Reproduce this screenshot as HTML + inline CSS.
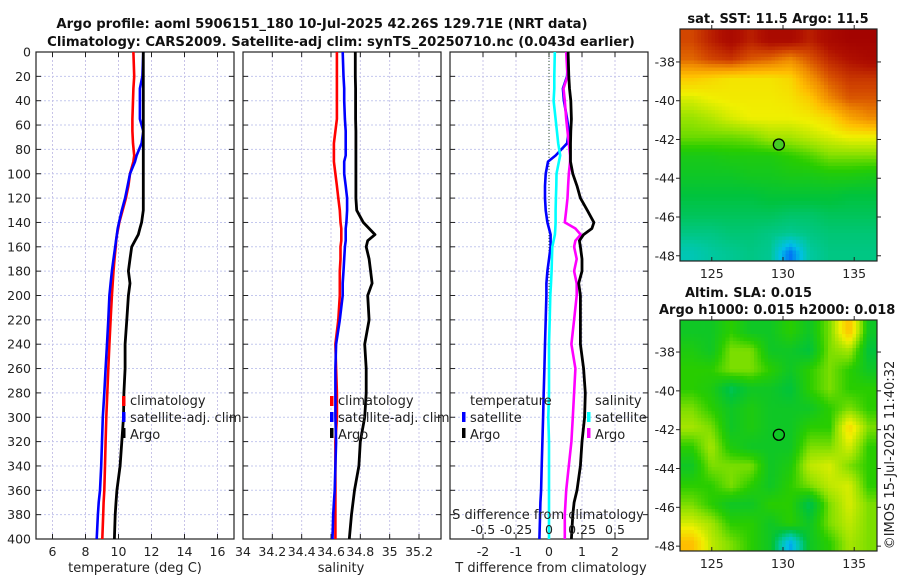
<!DOCTYPE html>
<html><head><meta charset="utf-8">
<style>
html,body{margin:0;padding:0;background:#fff;}
#root{position:relative;width:900px;height:580px;overflow:hidden;font-family:"DejaVu Sans","Liberation Sans",sans-serif;}
svg text{font-family:"DejaVu Sans","Liberation Sans",sans-serif;}
canvas{position:absolute;image-rendering:pixelated;}
</style></head>
<body>
<div id="root">
<canvas id="sstmap" width="56" height="66" style="left:680px;top:29px;width:197px;height:232px;"></canvas>
<canvas id="slamap" width="56" height="66" style="left:680px;top:320px;width:197px;height:231px;"></canvas>
<svg id="chart" width="900" height="580" style="position:absolute;left:0;top:0"></svg>
</div>
<script>
// ---------- data ----------
const depths      = [0,20,30,40,55,65,75,85,90,100,110,120,130,140,145,150,155,160,170,180,190,200,220,240,260,280,300,320,340,360,370,380,400];
const tempArgo    = [11.5,11.5,11.5,11.5,11.5,11.5,11.5,11.5,11.5,11.5,11.5,11.5,11.5,11.4,11.3,11.2,11.0,10.8,10.7,10.6,10.7,10.6,10.5,10.4,10.4,10.33,10.3,10.2,10.1,9.9,9.85,9.8,9.75];
const tempClim    = [10.9,10.95,10.9,10.88,10.84,10.84,10.88,10.95,10.9,10.7,10.6,10.45,10.25,10.05,9.98,9.9,9.86,9.83,9.76,9.7,9.65,9.6,9.52,9.45,9.38,9.32,9.26,9.22,9.18,9.14,9.1,9.07,9.02];
const tempSat     = [11.5,11.45,11.3,11.3,11.3,11.5,11.4,11.1,11.0,10.7,10.55,10.4,10.2,10.03,9.95,9.9,9.85,9.8,9.7,9.6,9.52,9.45,9.38,9.3,9.22,9.14,9.05,9.0,8.95,8.88,8.8,8.75,8.68];
const salArgo     = [34.766,34.766,34.768,34.768,34.768,34.77,34.77,34.77,34.77,34.77,34.77,34.77,34.775,34.82,34.86,34.90,34.85,34.84,34.86,34.87,34.88,34.85,34.86,34.83,34.84,34.84,34.83,34.80,34.79,34.76,34.75,34.74,34.725];
const salClim     = [34.64,34.64,34.64,34.64,34.64,34.63,34.62,34.62,34.62,34.63,34.64,34.65,34.66,34.665,34.67,34.67,34.67,34.665,34.665,34.66,34.66,34.66,34.65,34.63,34.635,34.64,34.64,34.63,34.63,34.63,34.63,34.63,34.63];
const salSat      = [34.68,34.685,34.69,34.69,34.695,34.70,34.70,34.70,34.69,34.69,34.70,34.71,34.71,34.705,34.70,34.70,34.70,34.695,34.69,34.685,34.68,34.68,34.66,34.635,34.63,34.63,34.63,34.635,34.63,34.625,34.62,34.615,34.61];
const dTsat       = [0.58,0.55,0.42,0.45,0.55,0.6,0.55,0.2,-0.03,-0.1,-0.12,-0.12,-0.1,-0.05,0.0,0.05,0.05,0.05,0.0,-0.05,-0.08,-0.08,-0.1,-0.12,-0.14,-0.16,-0.18,-0.2,-0.22,-0.24,-0.26,-0.27,-0.29];
const dTargo      = [0.58,0.6,0.62,0.66,0.68,0.66,0.65,0.65,0.65,0.72,0.85,0.95,1.16,1.36,1.3,1.05,0.92,0.95,1.0,1.0,0.9,0.95,0.95,0.95,1.05,1.1,1.08,1.0,0.95,0.85,0.76,0.72,0.68];
const dSsat       = [0.044,0.04,0.04,0.035,0.05,0.06,0.07,0.085,0.075,0.057,0.055,0.052,0.05,0.05,0.048,0.045,0.035,0.025,0.022,0.02,0.015,0.01,0.005,0.0,0.0,0.0,-0.005,0.0,0.0,0.0,0.0,0.0,0.0];
const dSargo      = [0.13,0.14,0.11,0.12,0.13,0.14,0.15,0.16,0.16,0.15,0.145,0.14,0.13,0.12,0.20,0.24,0.20,0.19,0.21,0.19,0.21,0.21,0.19,0.17,0.20,0.19,0.18,0.17,0.15,0.13,0.125,0.12,0.12];
const depthTicks  = [0,20,40,60,80,100,120,140,160,180,200,220,240,260,280,300,320,340,360,380,400];
const tempTicks   = [6,8,10,12,14,16];
const salTicks    = [34,34.2,34.4,34.6,34.8,35,35.2];
const salTickLbl  = ["34","34.2","34.4","34.6","34.8","35","35.2"];
const dTTicks     = [-2,-1,0,1,2];
const dSTicks     = [-0.5,-0.25,0,0.25,0.5];
const dSTickLbl   = ["-0.5","-0.25","0","0.25","0.5"];
const lonTicks    = [125,130,135];
const latTicks    = [-38,-40,-42,-44,-46,-48];
const argoLon = 129.71, argoLat = -42.26;
const sstGrid = [
 [0.88,0.93,0.97,0.93,0.97,0.97,0.93,0.97,0.99,0.99],
 [0.84,0.88,0.9,0.86,0.84,0.8,0.86,0.92,0.95,0.97],
 [0.7,0.68,0.66,0.66,0.66,0.68,0.78,0.86,0.9,0.9],
 [0.62,0.64,0.65,0.65,0.65,0.66,0.7,0.8,0.86,0.86],
 [0.57,0.59,0.62,0.64,0.64,0.64,0.65,0.68,0.76,0.8],
 [0.54,0.54,0.54,0.55,0.58,0.58,0.6,0.62,0.64,0.64],
 [0.47,0.47,0.48,0.48,0.48,0.5,0.52,0.55,0.55,0.55],
 [0.45,0.45,0.45,0.46,0.46,0.47,0.47,0.48,0.48,0.47],
 [0.42,0.42,0.42,0.42,0.43,0.43,0.43,0.43,0.42,0.42],
 [0.4,0.4,0.4,0.4,0.4,0.39,0.39,0.4,0.4,0.4],
 [0.37,0.37,0.38,0.38,0.37,0.36,0.37,0.38,0.38,0.38],
 [0.33,0.35,0.36,0.37,0.36,0.2,0.35,0.37,0.37,0.37]];
const slaGrid = [
 [0.45,0.45,0.5,0.45,0.45,0.5,0.45,0.55,0.72,0.45],
 [0.48,0.45,0.55,0.55,0.45,0.45,0.42,0.55,0.58,0.42],
 [0.5,0.5,0.55,0.55,0.5,0.45,0.5,0.55,0.5,0.45],
 [0.5,0.48,0.4,0.45,0.45,0.42,0.5,0.55,0.5,0.5],
 [0.55,0.5,0.45,0.48,0.45,0.45,0.45,0.5,0.55,0.5],
 [0.58,0.55,0.45,0.48,0.45,0.45,0.5,0.5,0.68,0.55],
 [0.5,0.58,0.48,0.45,0.45,0.45,0.55,0.55,0.62,0.5],
 [0.45,0.55,0.55,0.55,0.45,0.48,0.6,0.62,0.55,0.5],
 [0.5,0.5,0.55,0.5,0.45,0.5,0.55,0.6,0.62,0.5],
 [0.55,0.5,0.45,0.45,0.5,0.5,0.4,0.55,0.62,0.55],
 [0.62,0.58,0.5,0.5,0.45,0.5,0.45,0.55,0.6,0.55],
 [0.72,0.6,0.55,0.5,0.45,0.25,0.45,0.5,0.58,0.55]];

// ---------- helpers ----------
const NS="http://www.w3.org/2000/svg";
const svg=document.getElementById('chart');
function el(tag,attrs,parent){const e=document.createElementNS(NS,tag);for(const k in attrs)e.setAttribute(k,attrs[k]);(parent||svg).appendChild(e);return e;}
function txt(s,x,y,attrs,parent){const t=el('text',Object.assign({x:x,y:y,'font-size':12,fill:'#222'},attrs||{}),parent);t.textContent=s;return t;}
const Y0=52,Y1=539;
const yD=d=>Y0+(d/400)*(Y1-Y0);
function scale(d0,d1,r0,r1){return v=>r0+(v-d0)/(d1-d0)*(r1-r0);}
const P1={x0:36,x1:234},P2={x0:243,x1:441},P3={x0:450,x1:648};
const xT=scale(5,17,P1.x0,P1.x1);
const xS=scale(34,35.35,P2.x0,P2.x1);
const xDT=scale(-3,3,P3.x0,P3.x1);
const xDS=scale(-0.75,0.75,P3.x0,P3.x1);

function panel(P,name,xs,ticks,lbls){
  const g=el('g',{});
  
  
  depthTicks.forEach(d=>{ if(d>0&&d<400) el('line',{x1:P.x0,x2:P.x1,y1:yD(d),y2:yD(d),stroke:'#c4c8ee','stroke-width':1,'stroke-dasharray':'2,2'},g);});
  ticks.forEach(v=>{ el('line',{x1:xs(v),x2:xs(v),y1:Y0,y2:Y1,stroke:'#c8c4e8','stroke-width':1,'stroke-dasharray':'2,2'},g);});
  depthTicks.forEach(d=>{ el('line',{x1:P.x0,x2:P.x0+5,y1:yD(d),y2:yD(d),stroke:'#222'},g); el('line',{x1:P.x1,x2:P.x1-5,y1:yD(d),y2:yD(d),stroke:'#222'},g);});
  ticks.forEach((v,i)=>{ el('line',{x1:xs(v),x2:xs(v),y1:Y1,y2:Y1-5,stroke:'#222'},g); el('line',{x1:xs(v),x2:xs(v),y1:Y0,y2:Y0+5,stroke:'#222'},g);
    const t=txt(lbls?lbls[i]:String(v),xs(v),556,{'text-anchor':'middle','font-size':12.5},g);
    
    
  });
  el('rect',{x:P.x0,y:Y0,width:P.x1-P.x0,height:Y1-Y0,fill:'none',stroke:'#222','stroke-width':1.2},g);
  return g;
}
function line(xs,vals,color,name,w,g){
  const pts=vals.map((v,i)=>xs(v).toFixed(1)+','+yD(depths[i]).toFixed(1)).join(' ');
  const p=el('polyline',{points:pts,fill:'none',stroke:color,'stroke-width':w||2.6,'stroke-linejoin':'round'},g);
  
  
}
function swatch(x,y,color,g){el('rect',{x:x,y:y-8,width:3.5,height:10,fill:color},g);}

// titles
const t1=txt('Argo profile: aoml 5906151_180 10-Jul-2025 42.26S 129.71E (NRT data)',322,28,{'font-weight':'bold','font-size':13.2,'text-anchor':'middle',fill:'#111'});


const t2=txt('Climatology: CARS2009. Satellite-adj clim: synTS_20250710.nc (0.043d earlier)',341,46,{'font-weight':'bold','font-size':13.2,'text-anchor':'middle',fill:'#111'});



// y tick labels
depthTicks.forEach(d=>{const t=txt(String(d),31,yD(d)+4.5,{'text-anchor':'end','font-size':12.5});
 
 });

// panel 1
const g1=panel(P1,'temperature-panel',xT,tempTicks);
line(xT,tempClim,'#ff0000','temp-climatology-line',2.6,g1);
line(xT,tempSat,'#0000ff','temp-satellite-line',2.6,g1);
line(xT,tempArgo,'#000000','temp-argo-line',2.8,g1);
swatch(122,404,'#ff0000',g1);swatch(122,420,'#0000ff',g1);swatch(122,436,'#000',g1);
txt('climatology',130,405,{'font-size':13},g1);txt('satellite-adj. clim',130,422,{'font-size':13},g1);txt('Argo',130,439,{'font-size':13},g1);
const xl1=txt('temperature (deg C)',135,572,{'text-anchor':'middle','font-size':13});



// panel 2
const g2=panel(P2,'salinity-panel',xS,salTicks,salTickLbl);
line(xS,salClim,'#ff0000','sal-climatology-line',2.6,g2);
line(xS,salSat,'#0000ff','sal-satellite-line',2.6,g2);
line(xS,salArgo,'#000000','sal-argo-line',2.8,g2);
swatch(330,404,'#ff0000',g2);swatch(330,420,'#0000ff',g2);swatch(330,436,'#000',g2);
txt('climatology',338,405,{'font-size':13},g2);txt('satellite-adj. clim',338,422,{'font-size':13},g2);txt('Argo',338,439,{'font-size':13},g2);
const xl2=txt('salinity',341,572,{'text-anchor':'middle','font-size':13});



// panel 3
const g3=panel(P3,'difference-panel',xDT,dTTicks);
el('line',{x1:xDT(0),x2:xDT(0),y1:Y0,y2:Y1,stroke:'#335533','stroke-width':1,'stroke-dasharray':'1,2'},g3);
line(xDT,dTsat,'#0000ff','dT-satellite-line',2.6,g3);
line(xDS,dSsat,'#00ffff','dS-satellite-line',2.6,g3);
line(xDS,dSargo,'#ff00ff','dS-argo-line',2.6,g3);
line(xDT,dTargo,'#000000','dT-argo-line',2.8,g3);
txt('temperature',470,405,{'font-size':13},g3);
swatch(462,420,'#0000ff',g3);swatch(462,436,'#000',g3);
txt('satellite',470,422,{'font-size':13},g3);txt('Argo',470,439,{'font-size':13},g3);
txt('salinity',595,405,{'font-size':13},g3);
swatch(587,420,'#00ffff',g3);swatch(587,436,'#ff00ff',g3);
txt('satellite',595,422,{'font-size':13},g3);txt('Argo',595,439,{'font-size':13},g3);
txt('S difference from climatology',548,519,{'text-anchor':'middle','font-size':13},g3);
dSTicks.forEach((v,i)=>{const t=txt(dSTickLbl[i],xDS(v),534,{'text-anchor':'middle','font-size':12.5},g3);
 
 });
const xl3=txt('T difference from climatology',551,572,{'text-anchor':'middle','font-size':13});



// ---------- maps ----------
const CM=[[0,[0,0,160]],[0.15,[0,64,255]],[0.28,[0,192,230]],[0.35,[0,200,160]],[0.42,[0,195,60]],[0.5,[40,205,0]],[0.56,[140,225,0]],[0.64,[240,240,0]],[0.72,[255,190,0]],[0.8,[240,140,0]],[0.88,[210,70,0]],[0.95,[176,16,0]],[1,[160,0,0]]];
function cmap(v){v=Math.max(0,Math.min(1,v));for(let i=1;i<CM.length;i++){if(v<=CM[i][0]){const a=CM[i-1],b=CM[i],t=(v-a[0])/(b[0]-a[0]);return a[1].map((c,k)=>Math.round(c+(b[1][k]-c)*t));}}return CM[CM.length-1][1];}
function drawMap(id,grid){
  const c=document.getElementById(id),ctx=c.getContext('2d'),W=c.width,H=c.height;
  const img=ctx.createImageData(W,H),R=grid.length,C=grid[0].length;
  for(let y=0;y<H;y++)for(let x=0;x<W;x++){
    const gy=Math.min(R-1.001,Math.max(0,y/H*R-0.5)),gx=Math.min(C-1.001,Math.max(0,x/W*C-0.5));
    const iy=Math.floor(gy),ix=Math.floor(gx),fy=gy-iy,fx=gx-ix;
    const v=grid[iy][ix]*(1-fx)*(1-fy)+grid[iy][ix+1]*fx*(1-fy)+grid[iy+1][ix]*(1-fx)*fy+grid[iy+1][ix+1]*fx*fy;
    const col=cmap(v),o=(y*W+x)*4;img.data[o]=col[0];img.data[o+1]=col[1];img.data[o+2]=col[2];img.data[o+3]=255;}
  ctx.putImageData(img,0,0);
}
drawMap('sstmap',sstGrid);
drawMap('slamap',slaGrid);
function mapAxes(M,name,fillMarker){
  const g=el('g',{});
  
  
  const lx=scale(122.77,136.6,M.x0,M.x1),ly=scale(M.latTop,M.latBot,M.y0,M.y1);
  el('rect',{x:M.x0,y:M.y0,width:M.x1-M.x0,height:M.y1-M.y0,fill:'none',stroke:'#222','stroke-width':1.2},g);
  lonTicks.forEach(v=>{el('line',{x1:lx(v),x2:lx(v),y1:M.y1,y2:M.y1-4,stroke:'#222'},g);el('line',{x1:lx(v),x2:lx(v),y1:M.y0,y2:M.y0-4,stroke:'#222'},g);
    txt(String(v),lx(v),M.y1+17,{'text-anchor':'middle','font-size':12.5},g);});
  latTicks.forEach(v=>{el('line',{x1:M.x0,x2:M.x0-4,y1:ly(v),y2:ly(v),stroke:'#222'},g);el('line',{x1:M.x1,x2:M.x1+4,y1:ly(v),y2:ly(v),stroke:'#222'},g);
    txt(String(v),M.x0-5,ly(v)+4.5,{'text-anchor':'end','font-size':12.5},g);});
  const m=el('circle',{cx:lx(argoLon),cy:ly(argoLat),r:5.5,fill:fillMarker,stroke:'#000','stroke-width':1.3},g);
  
  
}
mapAxes({x0:680,x1:877,y0:29,y1:261,latTop:-36.3,latBot:-48.27},'sst-map-axes','#44cc22');
mapAxes({x0:680,x1:877,y0:320,y1:551,latTop:-36.35,latBot:-48.25},'sla-map-axes','none');
const s1=txt('sat. SST: 11.5 Argo: 11.5',778,23,{'font-weight':'bold','font-size':13,'text-anchor':'middle',fill:'#111'});


const s2=txt('Altim. SLA: 0.015',685,297,{'font-weight':'bold','font-size':13,fill:'#111'});


const s3=txt('Argo h1000: 0.015 h2000: 0.018',659,314,{'font-weight':'bold','font-size':13,fill:'#111'});


const cp=txt('©IMOS 15-Jul-2025 11:40:32',0,0,{'font-size':13,'text-anchor':'middle',transform:'translate(894,455) rotate(-90)'});


</script>
</body></html>
